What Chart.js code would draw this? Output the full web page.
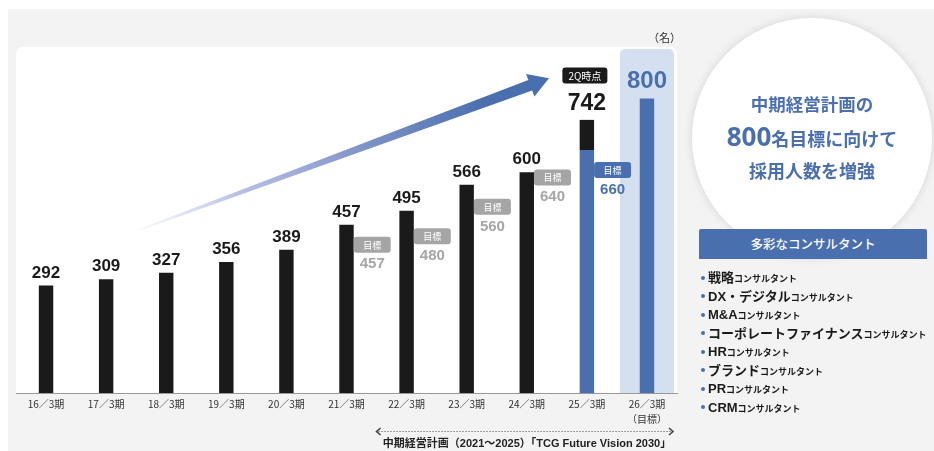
<!DOCTYPE html>
<html><head><meta charset="utf-8">
<script src="https://cdn.jsdelivr.net/npm/chart.js@4.4.1/dist/chart.umd.min.js"></script>
<style>
html,body{margin:0;padding:0;background:#fff;width:934px;height:451px;overflow:hidden;font-family:"Liberation Sans","Noto Sans CJK JP",sans-serif;}
#bg{position:absolute;left:8px;top:9px;width:926px;height:442px;background:#f3f3f3;}
#wrap{position:absolute;left:0;top:0;width:934px;height:451px;}
#unit{position:absolute;left:640px;width:41px;top:30px;line-height:14px;font-size:11px;color:#333;text-align:right;font-family:"Noto Sans CJK JP",sans-serif;}
#circle{position:absolute;left:692px;top:18px;width:240px;height:240px;border-radius:50%;background:#fff;box-shadow:0 0 10px rgba(0,0,0,0.13);}
.ct{position:absolute;left:0;width:240px;text-align:center;color:#4a6fae;font-family:"Noto Sans CJK JP",sans-serif;font-weight:700;white-space:nowrap;}
#hdr{position:absolute;left:699px;top:229px;width:228px;height:30px;background:#4a6fae;border-radius:2px 2px 0 0;color:#fff;text-align:center;line-height:30px;font-size:12.5px;font-family:"Noto Sans CJK JP",sans-serif;font-weight:500;}
#list{position:absolute;left:700px;top:268px;width:234px;}
.li{height:18.5px;line-height:18.5px;white-space:nowrap;color:#1a1a1a;font-weight:700;position:relative;padding-left:8px;}
.li::before{content:"";position:absolute;left:1px;top:7.5px;width:4px;height:4px;border-radius:50%;background:#4a6fae;}
.li .m{font-size:13px;font-family:"Liberation Sans","Noto Sans CJK JP",sans-serif;}
.li .s{font-size:9px;font-family:"Noto Sans CJK JP",sans-serif;}
#cap{position:absolute;left:367px;width:320px;top:436px;line-height:14px;text-align:center;font-size:11px;font-weight:700;color:#222;font-family:"Liberation Sans","Noto Sans CJK JP",sans-serif;}
</style>
</head>
<body>
<div id="bg"></div>
<div id="wrap"><canvas id="c" width="934" height="451"></canvas></div>
<div id="unit">（名）</div>
<div id="circle">
  <div class="ct" style="top:74px;line-height:24px;font-size:17.5px;">中期経営計画の</div>
  <div class="ct" style="top:101px;line-height:34px;font-size:18px;"><span style="font-family:'Noto Sans',sans-serif;font-size:26px;font-weight:700;">800</span>名目標に向けて</div>
  <div class="ct" style="top:140px;line-height:24px;font-size:18px;">採用人数を増強</div>
</div>
<div id="hdr">多彩なコンサルタント</div>
<div id="list"></div>
<div id="cap">中期経営計画（2021～2025）「TCG Future Vision 2030」</div>
<script>
// ---- data ----
const categories = ["16／3期","17／3期","18／3期","19／3期","20／3期","21／3期","22／3期","23／3期","24／3期","25／3期",["26／3期","（目標）"]];
const actual = [292,309,327,356,389,457,495,566,600,742,null];
const targets = [null,null,null,null,null,457,480,560,640,660,800];
const blueFrom = 9;               // first year drawn in plan colour
const targetTag = "目標";
const latestNote = "2Q時点";
const consultantKinds = ["戦略","DX・デジタル","M&A","コーポレートファイナンス","HR","ブランド","PR","CRM"];
const consultantSuffix = "コンサルタント";

// list
const list = document.getElementById('list');
consultantKinds.forEach(k=>{
  const d=document.createElement('div'); d.className='li';
  d.innerHTML='<span class="m"></span><span class="s"></span>';
  d.children[0].textContent=k; d.children[1].textContent=consultantSuffix;
  list.appendChild(d);
});

const BLUE='#4a6fae', BLACK='#1a1a1a', GRAY='#a5a5a5';
const bluePart = targets.map((t,i)=> i>=blueFrom ? t : null);
const blackPart = actual.map((a,i)=> a==null ? null : a - (bluePart[i]||0));

function rr(ctx,x,y,w,h,r){
  ctx.beginPath();
  if(ctx.roundRect){ctx.roundRect(x,y,w,h,r);} else {ctx.rect(x,y,w,h);}
}

const deco = {
  id:'deco',
  beforeDraw(chart){
    const {ctx, chartArea:ca} = chart;
    ctx.save();
    ctx.fillStyle='#ffffff';
    rr(ctx, ca.left, ca.top, ca.right-ca.left, ca.bottom-ca.top, [7,7,0,0]);
    ctx.fill();
    ctx.restore();
  },
  beforeDatasetsDraw(chart){
    const {ctx, chartArea:ca, scales:{x:xs,y:ys}} = chart;
    const step = xs.getPixelForValue(1)-xs.getPixelForValue(0);
    ctx.save();
    // highlight column for the target year
    actual.forEach((a,i)=>{
      if(a==null && targets[i]!=null){
        const cx=xs.getPixelForValue(i), w=step*0.9;
        ctx.fillStyle='#d4e0f0';
        rr(ctx, cx-w/2, ca.top+2, w, ca.bottom-ca.top-2, [5,5,0,0]);
        ctx.fill();
      }
    });
    // growth arrow
    const tail={x:xs.getPixelForValue(1.4), y:ys.getPixelForValue(434)};
    const tip={x:xs.getPixelForValue(8.37), y:ys.getPixelForValue(855)};
    const dx=tip.x-tail.x, dy=tip.y-tail.y, L=Math.hypot(dx,dy);
    const ux=dx/L, uy=dy/L, nx=-uy, ny=ux;
    const headLen=20, headHalf=12, sh=5.5, st=0.8;
    const bx=tip.x-ux*headLen, by=tip.y-uy*headLen;
    const g=ctx.createLinearGradient(tail.x,tail.y,tip.x,tip.y);
    g.addColorStop(0,'rgba(190,195,230,0.0)');
    g.addColorStop(0.25,'rgba(175,182,224,0.85)');
    g.addColorStop(0.55,'#8094c8');
    g.addColorStop(0.85,BLUE);
    g.addColorStop(1,BLUE);
    ctx.fillStyle=g;
    ctx.beginPath();
    ctx.moveTo(tail.x+nx*st, tail.y+ny*st);
    ctx.lineTo(bx+nx*sh, by+ny*sh);
    ctx.lineTo(bx+nx*headHalf, by+ny*headHalf);
    ctx.lineTo(tip.x, tip.y);
    ctx.lineTo(bx-nx*headHalf, by-ny*headHalf);
    ctx.lineTo(bx-nx*sh, by-ny*sh);
    ctx.lineTo(tail.x-nx*st, tail.y-ny*st);
    ctx.closePath();
    ctx.fill();
    ctx.restore();
  },
  afterDatasetsDraw(chart){
    const {ctx, chartArea:ca, scales:{x:xs,y:ys}} = chart;
    const step = xs.getPixelForValue(1)-xs.getPixelForValue(0);
    const barW = step*0.24;
    let lastIdx=-1; actual.forEach((a,i)=>{if(a!=null) lastIdx=i;});
    ctx.save();
    ctx.textAlign='center';
    // actual value labels
    actual.forEach((a,i)=>{
      if(a==null) return;
      const x=xs.getPixelForValue(i), top=ys.getPixelForValue(a);
      const big = i===lastIdx;
      ctx.fillStyle=BLACK;
      ctx.textBaseline='alphabetic';
      ctx.font = 'bold '+(big?23:17)+'px "Liberation Sans", Arial, sans-serif';
      const base = top-(big?10:8);
      ctx.fillText(String(a), x, base);
      if(big){
        const w=45,h=16, bottom=base-26.5;
        ctx.fillStyle='#1a1a1a';
        rr(ctx, x-2-w/2, bottom-h, w, h, 3); ctx.fill();
        ctx.fillStyle='#fff';
        ctx.font='10px "Noto Sans CJK JP", sans-serif';
        ctx.textBaseline='middle';
        ctx.fillText(latestNote, x-2, bottom-h/2+0.5);
      }
    });
    // target badges
    targets.forEach((t,i)=>{
      if(t==null) return;
      const x=xs.getPixelForValue(i);
      if(actual[i]==null){
        ctx.fillStyle=BLUE;
        ctx.textBaseline='alphabetic';
        ctx.font='bold 24px "Liberation Sans", Arial, sans-serif';
        ctx.fillText(String(t), x, ys.getPixelForValue(t)-10.5);
        return;
      }
      const col = i>=blueFrom ? BLUE : GRAY;
      const left=x+barW/2, top=ys.getPixelForValue(t)+12, w=37, h=16;
      ctx.fillStyle=col;
      rr(ctx,left,top,w,h,3); ctx.fill();
      ctx.fillStyle='#fff';
      ctx.font='9px "Noto Sans CJK JP", sans-serif';
      ctx.textBaseline='middle';
      ctx.fillText(targetTag, left+w/2, top+h/2+0.5);
      ctx.fillStyle=col;
      ctx.font='bold 15px "Liberation Sans", Arial, sans-serif';
      ctx.fillText(String(t), left+w/2, top+27.5);
    });
    ctx.restore();
  },
  afterDraw(chart){
    const {ctx, chartArea:ca, scales:{x:xs}} = chart;
    const step = xs.getPixelForValue(1)-xs.getPixelForValue(0);
    const x0 = xs.getPixelForValue(5)+step/2, x1 = ca.right-4, y=431.5;
    ctx.save();
    ctx.strokeStyle='#444'; ctx.lineWidth=1;
    ctx.setLineDash([1,2]);
    ctx.beginPath(); ctx.moveTo(x0+2,y); ctx.lineTo(x1-2,y); ctx.stroke();
    ctx.setLineDash([]);
    ctx.lineWidth=1.6;
    ctx.beginPath(); ctx.moveTo(x0+4,y-3.5); ctx.lineTo(x0,y); ctx.lineTo(x0+4,y+3.5); ctx.stroke();
    ctx.beginPath(); ctx.moveTo(x1-4,y-3.5); ctx.lineTo(x1,y); ctx.lineTo(x1-4,y+3.5); ctx.stroke();
    ctx.restore();
  }
};

new Chart(document.getElementById('c'), {
  type:'bar',
  data:{
    labels:categories,
    datasets:[
      {label:'計画', data:bluePart, backgroundColor:BLUE, stack:'s'},
      {label:'実績', data:blackPart, backgroundColor:BLACK, stack:'s'}
    ]
  },
  options:{
    responsive:false, animation:false, devicePixelRatio:1,
    layout:{padding:{left:16, right:257, top:47, bottom:0}},
    datasets:{bar:{barPercentage:0.24, categoryPercentage:1}},
    plugins:{legend:{display:false}, tooltip:{enabled:false}},
    scales:{
      x:{stacked:true, grid:{display:false, drawTicks:false},
         border:{display:true, color:'#9a9a9a', width:1},
         ticks:{color:'#333', maxRotation:0, autoSkip:false, padding:4,
                font:{size:10, family:'"Noto Sans CJK JP", sans-serif', lineHeight:1.45}},
         afterFit(s){ s.height = 58; }},
      y:{stacked:true, display:false, min:0, max:940}
    }
  },
  plugins:[deco]
});
</script>
</body></html>
